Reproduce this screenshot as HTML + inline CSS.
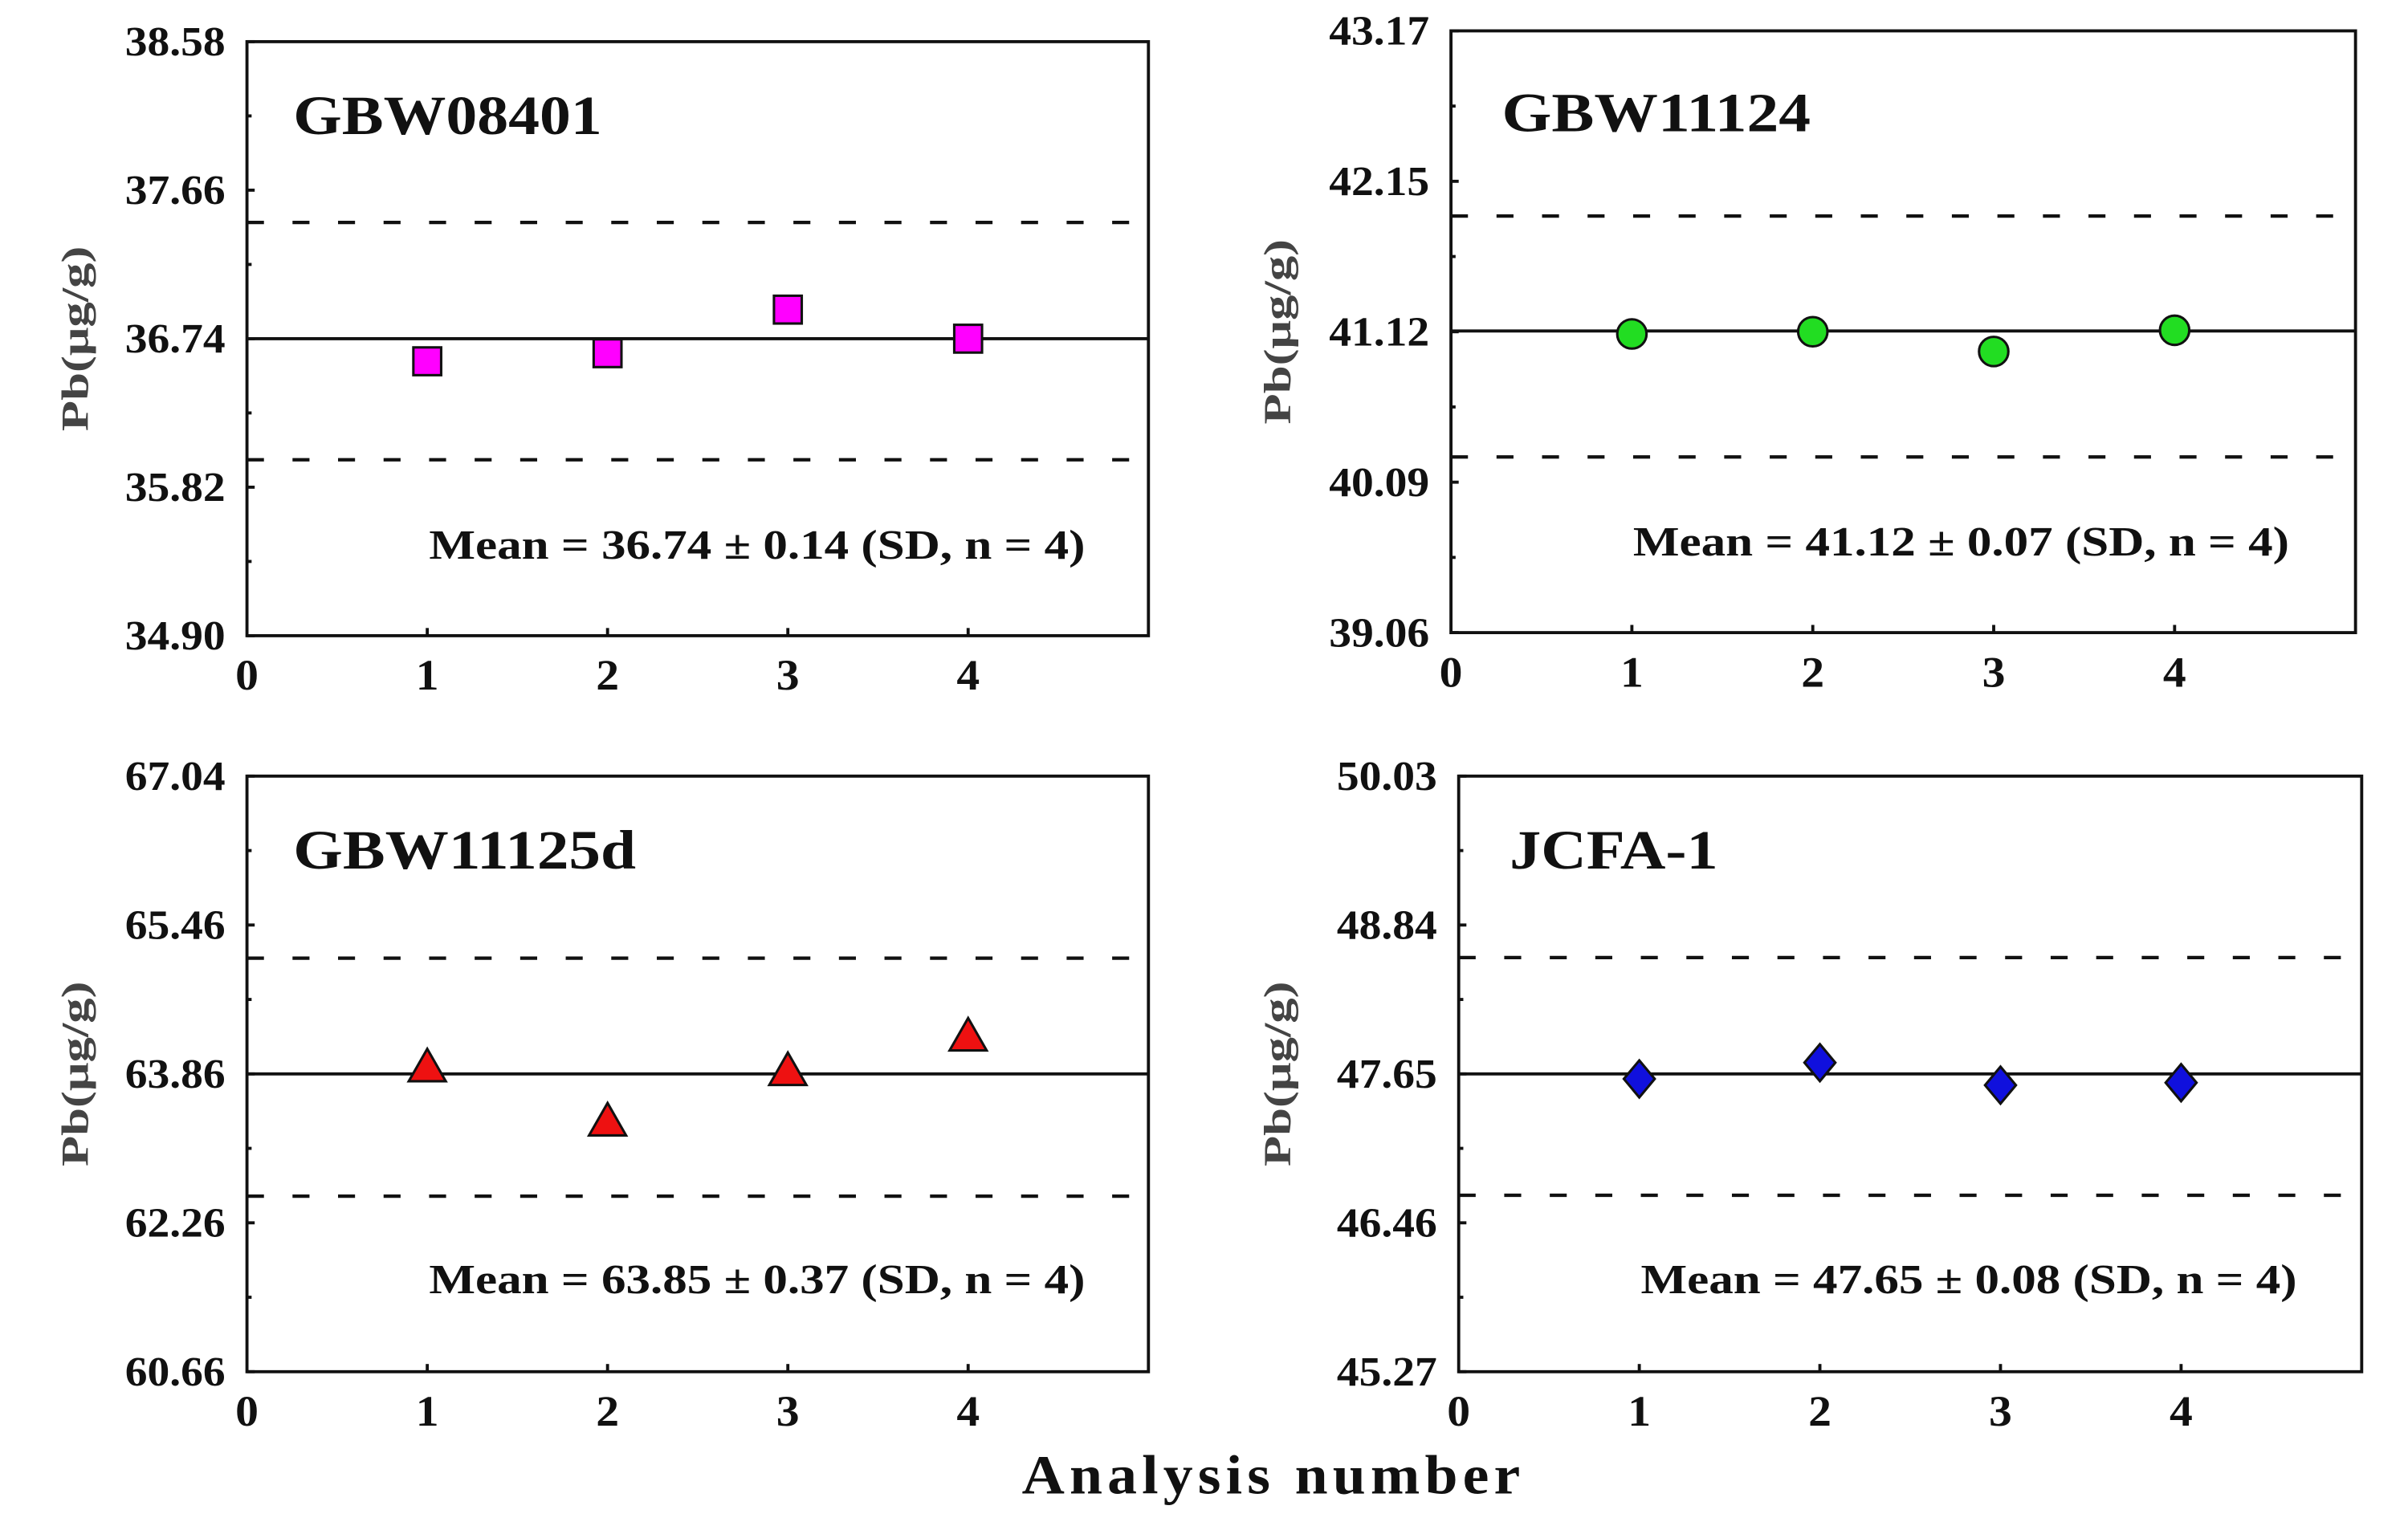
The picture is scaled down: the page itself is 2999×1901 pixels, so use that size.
<!DOCTYPE html>
<html><head><meta charset="utf-8"><style>
html,body{margin:0;padding:0;background:#fff;}
svg{display:block;}
text{font-family:"Liberation Serif",serif;font-weight:bold;}
</style></head><body>
<svg id="fig" width="2999" height="1901" viewBox="0 0 1560 989" preserveAspectRatio="none" xmlns="http://www.w3.org/2000/svg">
<rect width="1560" height="989" fill="#fff"/>
<g id="root"></g>
<text x="825" y="968" text-anchor="middle" font-size="36" letter-spacing="3" fill="#111" textLength="326" lengthAdjust="spacingAndGlyphs">Analysis number</text>
</svg>
<script>
const xCategories = [1, 2, 3, 4];
const names = ["GBW08401", "GBW11124", "GBW11125d", "JCFA-1"];
const yMins = [34.90, 39.06, 60.66, 45.27];
const yMaxs = [38.58, 43.17, 67.04, 50.03];
const tickLabels = [["34.90","35.82","36.74","37.66","38.58"],["39.06","40.09","41.12","42.15","43.17"],["60.66","62.26","63.86","65.46","67.04"],["45.27","46.46","47.65","48.84","50.03"]];
const means = [36.74, 41.12, 63.85, 47.65];
const upperLimits = [37.46, 41.905, 65.09, 48.58];
const lowerLimits = [35.99, 40.26, 62.54, 46.68];
const seriesGBW08401 = [36.60, 36.65, 36.92, 36.74];
const seriesGBW11124 = [41.10, 41.115, 40.98, 41.125];
const seriesGBW11125d = [63.92, 63.34, 63.88, 64.25];
const seriesJCFA1 = [47.61, 47.74, 47.56, 47.58];
const meanLabels = ["Mean = 36.74 \u00b1 0.14 (SD, n = 4)","Mean = 41.12 \u00b1 0.07 (SD, n = 4)","Mean = 63.85 \u00b1 0.37 (SD, n = 4)","Mean = 47.65 \u00b1 0.08 (SD, n = 4)"];

const allSeries = [seriesGBW08401, seriesGBW11124, seriesGBW11125d, seriesJCFA1];
const boxes = [{l:160,r:744,t:27,b:412},{l:940,r:1526,t:20,b:410},{l:160,r:744,t:503,b:889},{l:945,r:1530,t:503,b:889}];
const titleW = [200, 200, 222, 135];
const markers = ["square","circle","triangle","diamond"];
const fills = ["#ff00ff","#22dd22","#ee1111","#1010dd"];
const NS = "http://www.w3.org/2000/svg";
const root = document.getElementById('root');
function mk(tag, attrs, parent){const e=document.createElementNS(NS,tag);for(const k in attrs)e.setAttribute(k,attrs[k]);(parent||root).appendChild(e);return e;}

for(let p=0;p<4;p++){
  const B=boxes[p];
  const xs=v=>B.l+(v-0)/5*(B.r-B.l);
  const ys=v=>B.b-(v-yMins[p])/(yMaxs[p]-yMins[p])*(B.b-B.t);
  const g=mk('g',{});
  
  
  [upperLimits[p],lowerLimits[p]].forEach((v,i)=>{
    const ln=mk('line',{x1:B.l,x2:B.r,y1:ys(v),y2:ys(v),stroke:'#111','stroke-width':2.2,'stroke-dasharray':'11 18.5'},g);
    
    
  });
  const ml=mk('line',{x1:B.l,x2:B.r,y1:ys(means[p]),y2:ys(means[p]),stroke:'#111','stroke-width':2},g);
  
  
  const fr=mk('rect',{x:B.l,y:B.t,width:B.r-B.l,height:B.b-B.t,fill:'none',stroke:'#111','stroke-width':2},g);
  
  
  const tl=tickLabels[p];
  for(let i=0;i<tl.length;i++){
    const v=yMins[p]+(yMaxs[p]-yMins[p])*i/(tl.length-1);
    const y=ys(v);
    mk('line',{x1:B.l,x2:B.l+5,y1:y,y2:y,stroke:'#111','stroke-width':2},g);
    if(i<tl.length-1){const ym=ys(v+(yMaxs[p]-yMins[p])/(tl.length-1)/2);mk('line',{x1:B.l,x2:B.l+3,y1:ym,y2:ym,stroke:'#111','stroke-width':2},g);}
    const t=mk('text',{x:B.l-14,y:y+9,'text-anchor':'end','font-size':27,fill:'#111',textLength:65,lengthAdjust:'spacingAndGlyphs'},g);
    t.textContent=tl[i];
    
    
  }
  for(let k=0;k<=4;k++){
    const x=xs(k);
    if(k>0) mk('line',{x1:x,x2:x,y1:B.b,y2:B.b-5,stroke:'#111','stroke-width':2},g);
    const t=mk('text',{x:x,y:B.b+35,'text-anchor':'middle','font-size':28,fill:'#111',textLength:15,lengthAdjust:'spacingAndGlyphs'},g);
    t.textContent=String(k);
    
    
  }
  const tt=mk('text',{x:B.l+30+(p%2?3:0),y:B.t+(p===1?65:60),'font-size':36,fill:'#111',textLength:titleW[p],lengthAdjust:'spacingAndGlyphs'},g);
  tt.textContent=names[p];
  
  
  const mt=mk('text',{x:B.l+118,y:B.t+(p===1?340:335),'font-size':27,fill:'#111',textLength:425,lengthAdjust:'spacingAndGlyphs'},g);
  mt.textContent=meanLabels[p];
  
  
  const cy=(B.t+B.b)/2;
  const yt=mk('text',{x:0,y:0,transform:`translate(${(p%2?836:57)},${cy}) rotate(-90)`,'text-anchor':'middle','font-size':25,fill:'#444',textLength:120,lengthAdjust:'spacingAndGlyphs'},g);
  yt.textContent='Pb(\u03bcg/g)';
  
  
  const s=allSeries[p];
  for(let i=0;i<s.length;i++){
    const x=xs(xCategories[i]), y=ys(s[i]);
    let m;
    const st={fill:fills[p],stroke:'#111','stroke-width':1.6};
    if(markers[p]==='square') m=mk('rect',Object.assign({x:x-9,y:y-9,width:18,height:18},st),g);
    else if(markers[p]==='circle') m=mk('circle',Object.assign({cx:x,cy:y,r:9.5},st),g);
    else if(markers[p]==='triangle') m=mk('polygon',Object.assign({points:`${x},${y-12} ${x+12},${y+9} ${x-12},${y+9}`},st),g);
    else m=mk('polygon',Object.assign({points:`${x},${y-12} ${x+10},${y} ${x},${y+12} ${x-10},${y}`},st),g);
    
    
  }
}
</script>
</body></html>
